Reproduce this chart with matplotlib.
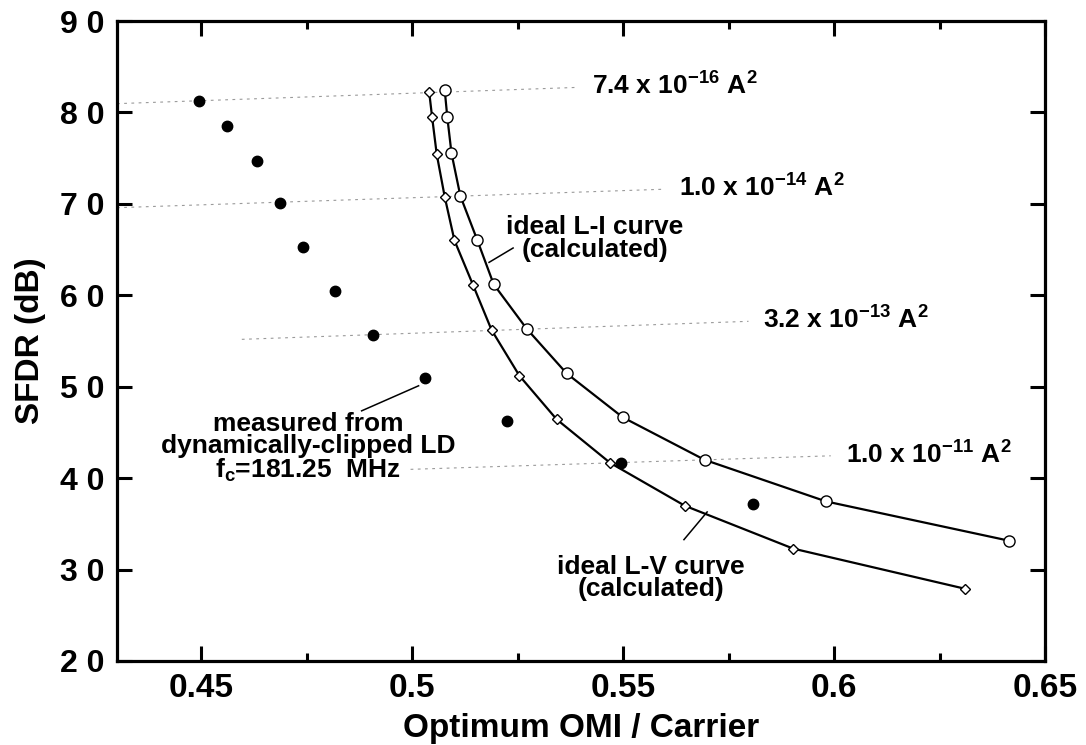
import matplotlib
matplotlib.use("Agg")
import matplotlib.pyplot as plt
from matplotlib.ticker import MultipleLocator, FuncFormatter

plt.rcParams.update({
    "font.family": "Liberation Sans",
    "font.weight": "bold",
    "mathtext.fontset": "custom",
    "mathtext.rm": "Liberation Sans:bold",
    "mathtext.it": "Liberation Sans:bold",
    "mathtext.bf": "Liberation Sans:bold",
})

# measured, dynamically clipped LD
meas_x = [0.4495, 0.456, 0.4632, 0.4686, 0.4741, 0.4818, 0.4907, 0.5031, 0.5225, 0.5494, 0.5808]
meas_y = [81.25, 78.5, 74.65, 70.1, 65.3, 60.5, 55.7, 50.9, 46.3, 41.6, 37.2]

# ideal L-I curve (circles)
li_x = [0.5077, 0.5083, 0.5093, 0.5114, 0.5154, 0.5193, 0.5271, 0.5366, 0.5499, 0.5693, 0.5981, 0.6414]
li_y = [82.42, 79.5, 75.53, 70.86, 66.05, 61.2, 56.35, 51.45, 46.65, 42.0, 37.45, 33.16]

# ideal L-V curve (diamonds)
lv_x = [0.504, 0.5047, 0.5058, 0.5077, 0.5100, 0.5144, 0.5188, 0.5254, 0.5342, 0.5469, 0.5646, 0.5903, 0.6311]
lv_y = [82.27, 79.5, 75.42, 70.75, 66.0, 61.13, 56.2, 51.2, 46.44, 41.67, 36.98, 32.29, 27.89]

# constant noise lines: start / end points and labels
noise_x0 = [0.43, 0.43, 0.4596, 0.4996]
noise_y0 = [80.96, 69.58, 55.18, 40.96]
noise_x1 = [0.5392, 0.5597, 0.5797, 0.5992]
noise_y1 = [82.74, 71.6, 57.15, 42.44]
noise_labels = [r"7.4 x 10$^{-16}$ A$^{2}$", r"1.0 x 10$^{-14}$ A$^{2}$",
                r"3.2 x 10$^{-13}$ A$^{2}$", r"1.0 x 10$^{-11}$ A$^{2}$"]

# callout texts, their centres and leader lines (start -> end)
notes = ["ideal L-I curve\n(calculated)",
         "ideal L-V curve\n(calculated)",
         "measured from\ndynamically-clipped LD\nf$_{c}$=181.25  MHz"]
note_x = [0.5433, 0.5566, 0.4753]
note_y = [66.2, 29.1, 43.3]
lead_x0 = [0.5239, 0.5644, 0.4880]
lead_y0 = [65.17, 33.27, 47.36]
lead_x1 = [0.5182, 0.5699, 0.5015]
lead_y1 = [63.60, 36.30, 50.10]

fig = plt.figure(figsize=(10.86, 7.45), dpi=100)
ax = fig.add_axes([0.1077, 0.1128, 0.8546, 0.859])

for x0, y0, x1, y1, lab in zip(noise_x0, noise_y0, noise_x1, noise_y1, noise_labels):
    ax.plot([x0, x1], [y0, y1], color="#9a9a9a", lw=0.8, ls=(0, (2.5, 4)), zorder=1)
    ax.text(x1 + 0.0035, y1 + 0.1, lab, fontsize=19, fontweight="bold", va="center", ha="left")

ax.plot(li_x, li_y, "-", color="black", lw=1.6, marker="o", ms=8,
        mfc="white", mec="black", mew=1.0, zorder=3)
ax.plot(lv_x, lv_y, "-", color="black", lw=1.6, marker="D", ms=5.5,
        mfc="white", mec="black", mew=1.0, zorder=3)
ax.plot(meas_x, meas_y, "o", color="black", ms=7.5, ls="none", zorder=4)

for txt, tx, ty in zip(notes, note_x, note_y):
    ax.text(tx, ty, txt, fontsize=19, fontweight="bold", ha="center", va="center",
            linespacing=0.92)
for x0, y0, x1, y1 in zip(lead_x0, lead_y0, lead_x1, lead_y1):
    ax.plot([x0, x1], [y0, y1], color="black", lw=1.1, zorder=2)

ax.set_xlim(0.43, 0.65)
ax.set_ylim(20, 90)
ax.xaxis.set_major_locator(MultipleLocator(0.05))
ax.xaxis.set_minor_locator(MultipleLocator(0.025))
ax.yaxis.set_major_locator(MultipleLocator(10))
ax.xaxis.set_major_formatter(FuncFormatter(lambda v, p: f"{v:g}"))
ax.yaxis.set_major_formatter(FuncFormatter(lambda v, p: " ".join(f"{v:.0f}")))
ax.tick_params(which="both", direction="in", top=True, right=True, width=2.2)
ax.tick_params(which="major", length=11, labelsize=24, pad=9)
ax.tick_params(axis="y", which="major", labelsize=23)
ax.tick_params(which="minor", length=6)
for s in ax.spines.values():
    s.set_linewidth(2.3)

ax.set_xlabel("Optimum OMI / Carrier", fontsize=24, fontweight="bold", labelpad=6)
ax.set_ylabel("SFDR (dB)", fontsize=24, fontweight="bold", labelpad=10)

fig.savefig("out.png", dpi=100)
